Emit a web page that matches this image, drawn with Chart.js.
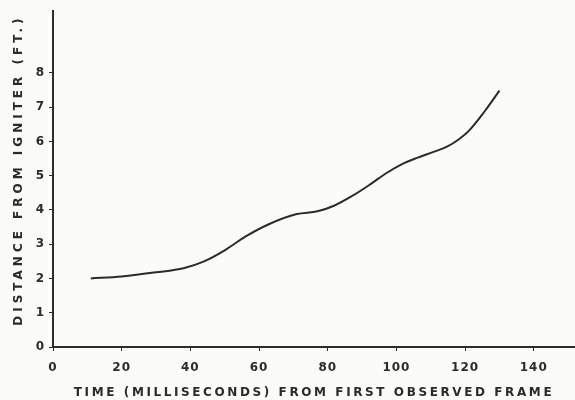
<!DOCTYPE html>
<html>
<head>
<meta charset="utf-8">
<script src="https://cdn.jsdelivr.net/npm/chart.js@4"></script>
<style>
  html, body { margin: 0; padding: 0; background: #fbfbf9; }
  #wrap { width: 575px; height: 400px; }
</style>
</head>
<body>
<div id="wrap"><canvas id="distChart"></canvas></div>
<script>
// values
const timeMs = [11, 20, 30, 38, 44, 50, 56, 63, 71, 77, 82, 87, 92, 97, 101.5, 106, 111, 115, 118, 121, 125.7, 130];
const distanceFt = [2.0, 2.06, 2.18, 2.3, 2.5, 2.82, 3.22, 3.59, 3.88, 3.96, 4.13, 4.4, 4.72, 5.07, 5.33, 5.52, 5.7, 5.86, 6.05, 6.3, 6.88, 7.48];
const xTicks = [0, 20, 40, 60, 80, 100, 120, 140];
const yTicks = [0, 1, 2, 3, 4, 5, 6, 7, 8];

const ink = "#2b2b2b";
const boldFont = { family: "'DejaVu Sans', sans-serif", size: 12, weight: "bold" };

// scanned lettering is spaced out; titles more than tick labels
const spacing = {
    id: "spacing",
    beforeDraw(chart) {
        chart.ctx.letterSpacing = "1px";
        [["x", "2.6px", 0], ["y", "4px", -9]].forEach(([id, gap, shift]) => {
            const scale = chart.scales[id];
            if (scale._spaced) return;
            const orig = scale.drawTitle;
            scale.drawTitle = function () {
                const ctx = this.ctx;
                ctx.save();
                ctx.letterSpacing = gap;
                ctx.translate(0, shift); // y title sits a bit above the axis centre
                orig.apply(this, arguments);
                ctx.restore();
            };
            scale._spaced = true;
        });
    }
};

new Chart(document.getElementById("distChart"), {
    type: "line",
    data: {
        datasets: [{
            data: timeMs.map((t, i) => ({ x: t, y: distanceFt[i] })),
            borderColor: ink,
            borderWidth: 2,
            pointRadius: 0,
            cubicInterpolationMode: "monotone",
            fill: false
        }]
    },
    options: {
        responsive: true,
        maintainAspectRatio: false,
        animation: false,
        layout: { padding: { top: 6, right: 0, left: 0, bottom: 0 } },
        plugins: { legend: { display: false }, tooltip: { enabled: false } },
        scales: {
            x: {
                type: "linear",
                min: 0,
                max: 152,
                afterBuildTicks: axis => { axis.ticks = xTicks.map(v => ({ value: v })); },
                afterFit: axis => { axis.height = 53; },
                border: { color: ink, width: 2 },
                grid: { drawOnChartArea: false, color: ink, tickLength: 4 },
                ticks: { color: ink, font: boldFont, padding: 10, maxRotation: 0 },
                title: {
                    display: true,
                    text: "TIME (MILLISECONDS) FROM FIRST OBSERVED FRAME",
                    color: ink,
                    font: boldFont,
                    padding: { top: 2, bottom: 0 }
                }
            },
            y: {
                type: "linear",
                min: 0,
                max: 9.8,
                afterBuildTicks: axis => { axis.ticks = yTicks.map(v => ({ value: v })); },
                afterFit: axis => { axis.width = 53; },
                border: { color: ink, width: 2 },
                grid: { drawOnChartArea: false, color: ink, tickLength: 4 },
                ticks: { color: ink, font: boldFont, padding: 4 },
                title: {
                    display: true,
                    text: "DISTANCE FROM IGNITER (FT.)",
                    color: ink,
                    font: boldFont,
                    padding: { top: 12, bottom: 0 }
                }
            }
        }
    },
    plugins: [spacing]
});
</script>
</body>
</html>
